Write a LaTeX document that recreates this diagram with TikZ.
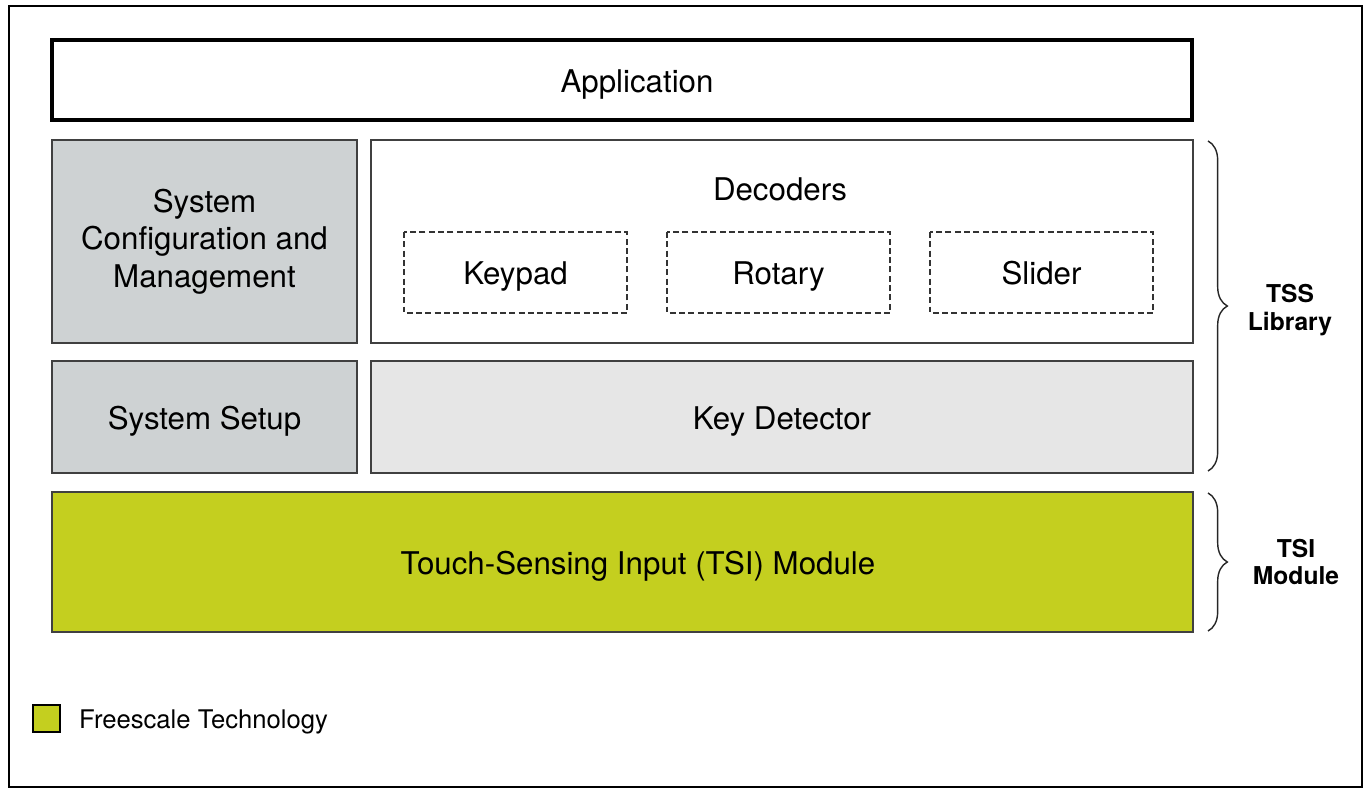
\documentclass[tikz,border=0pt]{standalone}
\usepackage{fontspec}
\setmainfont{TeX Gyre Heros}
\usetikzlibrary{decorations.pathreplacing}
\definecolor{cfggray}{HTML}{CED2D3}
\definecolor{keygray}{HTML}{E6E6E6}
\definecolor{fsgreen}{HTML}{C4CF1F}
\begin{document}
\begin{tikzpicture}[x=0.02cm,y=-0.02cm,
  lbl/.style={font=\fontsize{17.8}{21.5}\selectfont,align=center},
  onelbl/.style={lbl,text height=12.8pt,text depth=0pt,yshift=-0.5pt},
  layer/.style={draw=black!75,line width=0.9pt},
  decbox/.style={draw=black!80,line width=1pt,dash pattern=on 3.4pt off 1.9pt},
  brc/.style={decorate,decoration={brace,amplitude=11pt},line width=0.8pt,draw=black!85},
  side/.style={font=\bfseries\fontsize{14}{15.5}\selectfont,align=center}]
\useasboundingbox(0,0)rectangle(1372,788);
\draw[line width=0.9pt](9,6)rectangle(1362,787);
% layers
\draw[line width=1.8pt](52,40)rectangle(1192,120);
\node[onelbl](app)at(637,80){Application};
\draw[layer,fill=cfggray](52,140)rectangle(357,343)
  node[midway,lbl](cfg){System\\Configuration and\\Management};
\draw[layer](371,140)rectangle(1193,343);
\node[onelbl](dec)at(780,188){Decoders};
\draw[decbox](404,232)rectangle(627,313)node[midway,onelbl](keypad){Keypad};
\draw[decbox](667,232)rectangle(890,313)node[midway,onelbl](rotary){Rotary};
\draw[decbox](930,232)rectangle(1153,313)node[midway,onelbl](slider){Slider};
\draw[layer,fill=cfggray](52,361)rectangle(357,473)node[midway,onelbl](setup){System Setup};
\draw[layer,fill=keygray](371,361)rectangle(1193,473)node[midway,onelbl](keydet){Key Detector};
\draw[layer,fill=fsgreen](52,492)rectangle(1193,632);
\node[onelbl](tsi)at(638,562){Touch-Sensing Input (TSI) Module};
% braces
\draw[brc](1208,141)--(1208,471);
\node[side](tss)at(1290,310){TSS\\Library};
\draw[brc](1208,493)--(1208,631);
\node[side](tsimod)at(1296,562){TSI\\Module};
% legend
\draw[line width=0.9pt,fill=fsgreen](33,705)rectangle(60,732);
\node[anchor=west,font=\fontsize{14.6}{16}\selectfont,text height=10.5pt,text depth=0pt](legend)at(73,719){Freescale Technology};
\end{tikzpicture}
\end{document}
